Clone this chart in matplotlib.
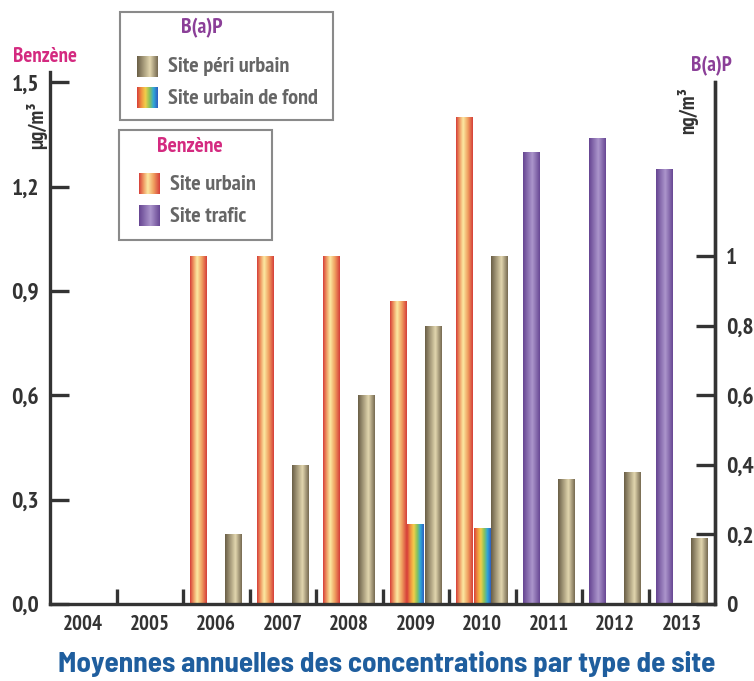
import matplotlib
matplotlib.use("Agg")
import matplotlib.pyplot as plt
import numpy as np
from matplotlib.colors import LinearSegmentedColormap
from matplotlib.patches import Rectangle

# data
years = ["2004", "2005", "2006", "2007", "2008", "2009", "2010", "2011", "2012", "2013"]
benz_urbain = [0, 0, 1.0, 1.0, 1.0, 0.87, 1.40, 0, 0, 0]
benz_trafic = [0, 0, 0, 0, 0, 0, 0, 1.30, 1.34, 1.25]
bap_fond = [0, 0, 0, 0, 0, 0.23, 0.22, 0, 0, 0]
bap_peri = [0, 0, 0.20, 0.40, 0.60, 0.80, 1.00, 0.36, 0.38, 0.19]

left_ticks = [0.0, 0.3, 0.6, 0.9, 1.2, 1.5]
left_labels = ["0,0", "0,3", "0,6", "0,9", "1,2", "1,5"]
right_ticks = [0, 0.2, 0.4, 0.6, 0.8, 1.0]
right_labels = ["0", "0,2", "0,4", "0,6", "0,8", "1"]

FONT = ["PT Sans Narrow", "DejaVu Sans"]
TITLE_FONT = ["Barlow Semi Condensed", "PT Sans Narrow", "DejaVu Sans"]
DARK = "#333333"
GREY = "#666666"
PINK = "#d42a80"
PURPLE = "#8b3f98"
BLUE = "#1f5e9e"

cmaps = {
    "urbain": LinearSegmentedColormap.from_list(
        "urbain", [(0, "#d6403a"), (0.2, "#ee9560"), (0.42, "#fce9a2"), (0.7, "#f0a060"), (1, "#d6403a")]),
    "trafic": LinearSegmentedColormap.from_list(
        "trafic", [(0, "#664592"), (0.55, "#ac96cc"), (1, "#684894")]),
    "peri": LinearSegmentedColormap.from_list(
        "peri", [(0, "#6a5f47"), (0.62, "#e2d6ae"), (1, "#776b52")]),
    "fond": LinearSegmentedColormap.from_list(
        "fond", ["#d8403a", "#f09040", "#f2cf4a", "#8cc35a", "#2fa8d8", "#2f5fc0"]),
}

grad = np.linspace(0, 1, 64).reshape(1, -1)


def gradient_bars(ax, x, heights, cmap):
    bars = ax.bar(x, heights, width=0.255, facecolor="none", edgecolor="none")
    for b in bars:
        if b.get_height() <= 0:
            continue
        x0, y0 = b.get_x(), b.get_y()
        im = ax.imshow(grad, cmap=cmap, aspect="auto",
                       extent=(x0, x0 + b.get_width(), y0, y0 + b.get_height()),
                       zorder=2)
        im.set_clip_path(b)
    return bars


fig = plt.figure(figsize=(7.54, 6.81), dpi=100)
W, H = 754, 681
ax = fig.add_axes([50 / W, 1 - 604 / H, 665 / W, 532 / H])

x = np.arange(len(years))
gradient_bars(ax, x - 0.26, benz_urbain, cmaps["urbain"])
gradient_bars(ax, x - 0.26, benz_trafic, cmaps["trafic"])
gradient_bars(ax, x, bap_fond, cmaps["fond"])
gradient_bars(ax, x + 0.26, bap_peri, cmaps["peri"])

ax.set_xlim(-0.5, 9.5)
ax.set_ylim(0, 1.53)

ax.spines["top"].set_visible(False)
for s in ["left", "bottom", "right"]:
    ax.spines[s].set_linewidth(2.4)
    ax.spines[s].set_color(DARK)
ax.spines["right"].set_bounds(0, 1.5)

ax.set_yticks(left_ticks)
ax.set_yticklabels(left_labels, family=FONT, fontweight="bold", fontsize=17, color=DARK)
ax.tick_params(axis="y", direction="in", length=14, width=2.4, color=DARK, pad=8)

ax.set_xticks(x[:-1] + 0.5)
ax.set_xticklabels([])
ax.set_xticks(x, minor=True)
ax.set_xticklabels(years, minor=True, family=FONT, fontweight="bold", fontsize=15, color=DARK)
ax.tick_params(axis="x", which="major", direction="in", length=11, width=2.4, color=DARK)
ax.tick_params(axis="x", which="minor", length=0, pad=8)

ax2 = ax.twinx()
ax2.set_ylim(0, 1.53)
for s in ["top", "left", "bottom"]:
    ax2.spines[s].set_visible(False)
ax2.spines["right"].set_linewidth(2.4)
ax2.spines["right"].set_color(DARK)
ax2.spines["right"].set_bounds(0, 1.5)
ax2.set_yticks(right_ticks)
ax2.set_yticklabels(right_labels, family=FONT, fontweight="bold", fontsize=17, color=DARK)
ax2.tick_params(axis="y", direction="in", length=14, width=2.4, color=DARK, pad=8)

# overlay in pixel coords for unit labels, legends and title
lax = fig.add_axes([0, 0, 1, 1], zorder=5)
lax.patch.set_alpha(0)
lax.axis("off")

txt = dict(family=FONT, fontweight="bold")
lax.text(45, 57, "Benzène", fontsize=15, color=PINK, ha="center", va="center", **txt)
lax.text(37, 125, "µg/m³", fontsize=15, color=DARK, ha="center", va="center", rotation=90, **txt)
lax.text(711, 66, "B(a)P", fontsize=15, color=PURPLE, ha="center", va="center", **txt)
lax.text(688, 110, "ng/m³", fontsize=15, color=DARK, ha="center", va="center", rotation=90, **txt)

# legend boxes: (box, title, title colour, title x/y, entries)
legends = [
    ((120, 12, 213, 108), "B(a)P", PURPLE, (202, 28),
     [("Site péri urbain", "peri", 137, 67), ("Site urbain de fond", "fond", 137, 98)]),
    ((119, 130, 153, 110), "Benzène", PINK, (190, 147),
     [("Site urbain", "urbain", 139, 184), ("Site trafic", "trafic", 139, 216)]),
]
for (bx, by, bw, bh), title, tcol, (tx, ty), entries in legends:
    lax.add_patch(Rectangle((bx, by), bw, bh, facecolor="white", edgecolor="#8a8a8a", lw=1.5))
    lax.text(tx, ty, title, fontsize=15.5, color=tcol, ha="center", va="center", **txt)
    for label, key, sx, sy in entries:
        lax.imshow(grad, cmap=cmaps[key], aspect="auto",
                   extent=(sx, sx + 21, sy + 10.5, sy - 10.5), zorder=3)
        lax.text(sx + 31, sy, label, fontsize=16, color=GREY, ha="left", va="center", **txt)

lax.text(387, 664, "Moyennes annuelles des concentrations par type de site",
         family=TITLE_FONT, fontweight="bold", fontsize=21, color=BLUE, ha="center", va="center")

lax.set_xlim(0, W)
lax.set_ylim(H, 0)

fig.savefig("out.png", dpi=100)
